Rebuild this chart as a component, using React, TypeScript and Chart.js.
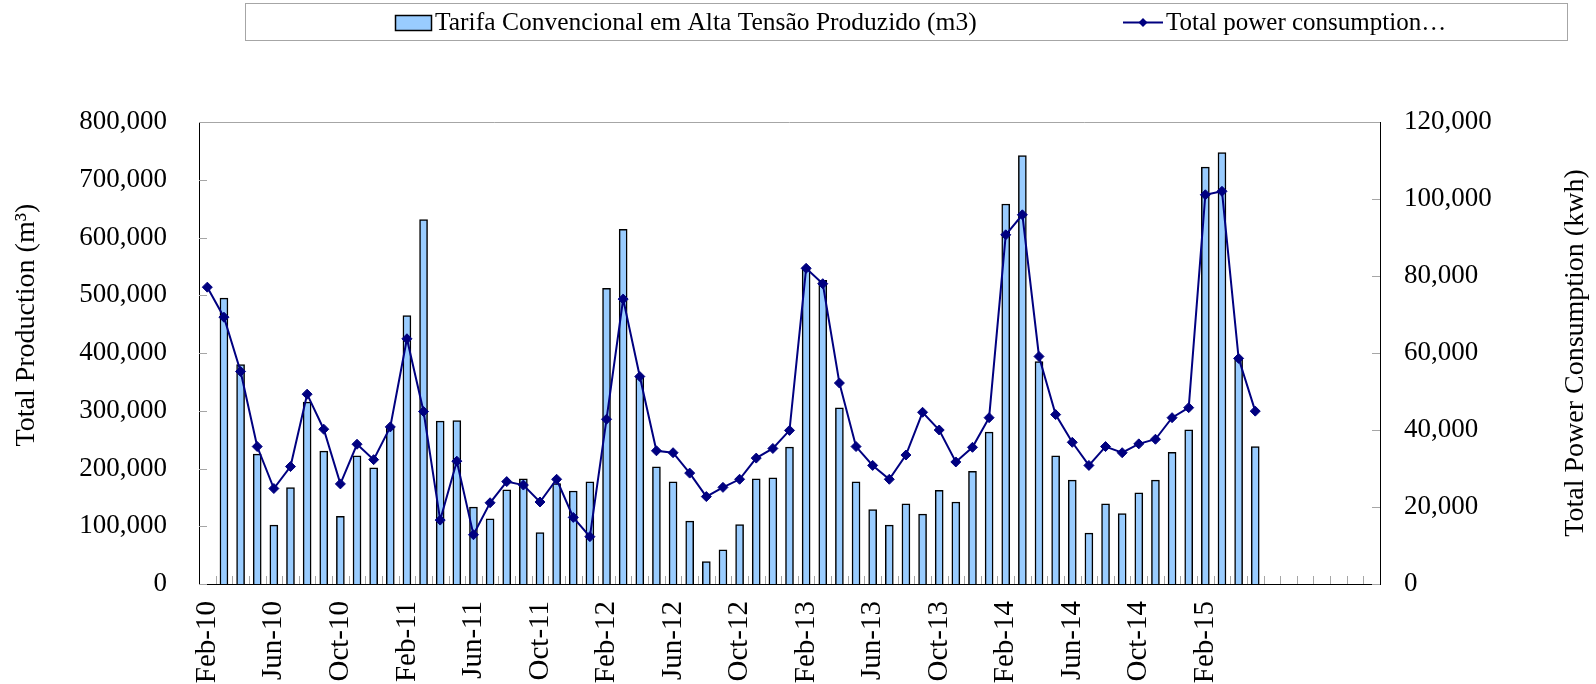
import React, { useEffect, useRef } from 'react';
import { Chart, registerables } from 'chart.js';

Chart.register(...registerables);

const categories: string[] = [
  'Feb-10', 'Mar-10', 'Apr-10', 'May-10', 'Jun-10', 'Jul-10', 'Aug-10', 'Sep-10', 'Oct-10', 'Nov-10', 'Dec-10',
  'Jan-11', 'Feb-11', 'Mar-11', 'Apr-11', 'May-11', 'Jun-11', 'Jul-11', 'Aug-11', 'Sep-11', 'Oct-11', 'Nov-11', 'Dec-11',
  'Jan-12', 'Feb-12', 'Mar-12', 'Apr-12', 'May-12', 'Jun-12', 'Jul-12', 'Aug-12', 'Sep-12', 'Oct-12', 'Nov-12', 'Dec-12',
  'Jan-13', 'Feb-13', 'Mar-13', 'Apr-13', 'May-13', 'Jun-13', 'Jul-13', 'Aug-13', 'Sep-13', 'Oct-13', 'Nov-13', 'Dec-13',
  'Jan-14', 'Feb-14', 'Mar-14', 'Apr-14', 'May-14', 'Jun-14', 'Jul-14', 'Aug-14', 'Sep-14', 'Oct-14', 'Nov-14', 'Dec-14',
  'Jan-15', 'Feb-15', 'Mar-15', 'Apr-15', 'May-15',
  '', '', '', '', '', '', '',
];

const production: (number | null)[] = [
  null, 495000, 380000, 225000, 102000, 167000, 315000, 230000, 117000, 222000, 201000,
  270000, 465000, 631000, 282000, 283000, 133000, 113000, 163000, 182000, 89000, 174000, 161000,
  177000, 512000, 614000, 359000, 203000, 177000, 109000, 39000, 59000, 103000, 182000, 184000,
  237000, 548000, 526000, 305000, 177000, 129000, 102000, 139000, 121000, 162000, 142000, 195000,
  263000, 658000, 742000, 385000, 222000, 180000, 88000, 139000, 122000, 158000, 180000, 228000,
  267000, 722000, 747000, 388000, 238000,
];

const power: (number | null)[] = [
  77100, 69300, 55200, 35700, 24800, 30500, 49300, 40200, 26000, 36300, 32300,
  40800, 63700, 44800, 16600, 31900, 12800, 21100, 26600, 25700, 21300, 27200, 17300,
  12300, 42800, 74000, 53900, 34600, 34100, 28800, 22700, 25100, 27200, 32700, 35200,
  39900, 82000, 78000, 52200, 35700, 30800, 27200, 33500, 44600, 40000, 31700, 35500,
  43200, 90700, 95900, 59100, 44000, 36800, 30800, 35700, 34100, 36400, 37600, 43200,
  45800, 101100, 102000, 58600, 44900,
];

const BAR_LABEL = 'Tarifa Convencional em Alta Tensão Produzido (m3)';
const LINE_LABEL = 'Total power consumption…';
const LEFT_TITLE = 'Total Production (m³)';
const RIGHT_TITLE = 'Total Power Consumption (kwh)';

const FONT = '"Liberation Serif", "Times New Roman", serif';
const BAR_FILL = '#99CCFF';
const LINE_COLOR = '#000080';

const decorPlugin = {
  id: 'decor',
  beforeDatasetsDraw(chart: any) {
    const { ctx, chartArea: a, scales } = chart;
    const x = scales.x;
    const y = scales.y;
    const y1 = scales.y1;
    ctx.save();
    ctx.strokeStyle = '#a6a6a6';
    ctx.lineWidth = 1;
    ctx.beginPath();
    ctx.moveTo(a.left, Math.round(a.top) + 0.5);
    ctx.lineTo(a.right, Math.round(a.top) + 0.5);
    const step = x.getPixelForValue(1) - x.getPixelForValue(0);
    for (let i = 0; i < categories.length - 1; i++) {
      const px = Math.round(x.getPixelForValue(i) + step / 2) + 0.5;
      ctx.moveTo(px, a.bottom);
      ctx.lineTo(px, a.bottom - 8);
    }
    y.ticks.forEach((t: any) => {
      const py = Math.round(y.getPixelForValue(t.value)) + 0.5;
      ctx.moveTo(a.left, py);
      ctx.lineTo(a.left + 8, py);
    });
    y1.ticks.forEach((t: any) => {
      const py = Math.round(y1.getPixelForValue(t.value)) + 0.5;
      ctx.moveTo(a.right, py);
      ctx.lineTo(a.right - 8, py);
    });
    ctx.stroke();
    ctx.restore();
  },
  afterDraw(chart: any) {
    const { ctx, chartArea: a } = chart;
    ctx.save();
    // legend box
    ctx.strokeStyle = '#a6a6a6';
    ctx.lineWidth = 1;
    ctx.strokeRect(245.5, 3.5, 1322, 37);
    // bar swatch
    ctx.fillStyle = BAR_FILL;
    ctx.fillRect(395, 15, 36, 15);
    ctx.strokeStyle = '#000';
    ctx.lineWidth = 1.5;
    ctx.strokeRect(395.5, 15.5, 36, 15);
    ctx.font = `25.5px ${FONT}`;
    ctx.fillStyle = '#000';
    ctx.textBaseline = 'alphabetic';
    ctx.textAlign = 'left';
    ctx.fillText(BAR_LABEL, 435, 30);
    // line swatch
    ctx.strokeStyle = LINE_COLOR;
    ctx.lineWidth = 2;
    ctx.beginPath();
    ctx.moveTo(1123, 22.5);
    ctx.lineTo(1163, 22.5);
    ctx.stroke();
    ctx.fillStyle = LINE_COLOR;
    ctx.beginPath();
    ctx.moveTo(1143, 18);
    ctx.lineTo(1147.5, 22.5);
    ctx.lineTo(1143, 27);
    ctx.lineTo(1138.5, 22.5);
    ctx.closePath();
    ctx.fill();
    ctx.fillStyle = '#000';
    ctx.font = `25px ${FONT}`;
    ctx.fillText(LINE_LABEL, 1166, 30);
    // axis titles
    ctx.font = `28px ${FONT}`;
    ctx.textAlign = 'center';
    ctx.textBaseline = 'middle';
    ctx.save();
    ctx.translate(27, 325);
    ctx.rotate(-Math.PI / 2);
    ctx.fillText(LEFT_TITLE, 0, 0);
    ctx.restore();
    ctx.save();
    ctx.translate(1576, (a.top + a.bottom) / 2);
    ctx.rotate(-Math.PI / 2);
    ctx.fillText(RIGHT_TITLE, 0, 0);
    ctx.restore();
    ctx.restore();
  },
};

export default function App() {
  const ref = useRef<HTMLCanvasElement | null>(null);
  useEffect(() => {
    if (!ref.current) return;
    const fmt = (v: any) => Number(v).toLocaleString('en-US');
    const chart = new Chart(ref.current, {
      type: 'bar',
      data: {
        labels: categories,
        datasets: [
          {
            type: 'line',
            label: LINE_LABEL,
            data: power,
            yAxisID: 'y1',
            borderColor: LINE_COLOR,
            backgroundColor: LINE_COLOR,
            borderWidth: 2,
            pointStyle: 'rectRot',
            pointRadius: 5,
            pointBorderWidth: 1,
            pointBackgroundColor: LINE_COLOR,
            pointBorderColor: LINE_COLOR,
            tension: 0,
            order: 1,
          } as any,
          {
            type: 'bar',
            label: BAR_LABEL,
            data: production,
            yAxisID: 'y',
            backgroundColor: BAR_FILL,
            borderColor: '#000',
            borderWidth: 1.5,
            barThickness: 8,
            order: 2,
          } as any,
        ],
      },
      options: {
        responsive: false,
        animation: false,
        devicePixelRatio: 1,
        layout: { padding: { top: 122, left: 0, right: 0, bottom: 0 } },
        plugins: { legend: { display: false }, tooltip: { enabled: false } },
        scales: {
          x: {
            offset: true,
            grid: { display: false, drawTicks: false, offset: true },
            border: { display: true, color: '#000', width: 1 },
            ticks: {
              autoSkip: false,
              minRotation: 90,
              maxRotation: 90,
              padding: 17,
              color: '#000',
              font: { family: FONT, size: 29 },
              callback: (_v: any, i: number) => (i % 4 === 0 ? categories[i] : ''),
            },
            afterFit: (s: any) => { s.height = 100; },
          },
          y: {
            position: 'left',
            min: 0,
            max: 800000,
            grid: { display: false, drawTicks: false },
            border: { display: true, color: '#000', width: 1 },
            ticks: {
              stepSize: 100000,
              padding: 32,
              color: '#000',
              font: { family: FONT, size: 27 },
              callback: fmt,
            },
            afterFit: (s: any) => { s.width = 199; },
          },
          y1: {
            position: 'right',
            min: 0,
            max: 120000,
            grid: { display: false, drawTicks: false },
            border: { display: true, color: '#000', width: 1 },
            ticks: {
              stepSize: 20000,
              padding: 24,
              color: '#000',
              font: { family: FONT, size: 27 },
              callback: fmt,
            },
            afterFit: (s: any) => { s.width = 216; },
          },
        },
      },
      plugins: [decorPlugin],
    });
    return () => chart.destroy();
  }, []);
  return (
    <div style={{ position: 'fixed', left: 0, top: 0, width: 1596, height: 684, background: '#fff' }}>
      <canvas ref={ref} width={1596} height={684} />
    </div>
  );
}
